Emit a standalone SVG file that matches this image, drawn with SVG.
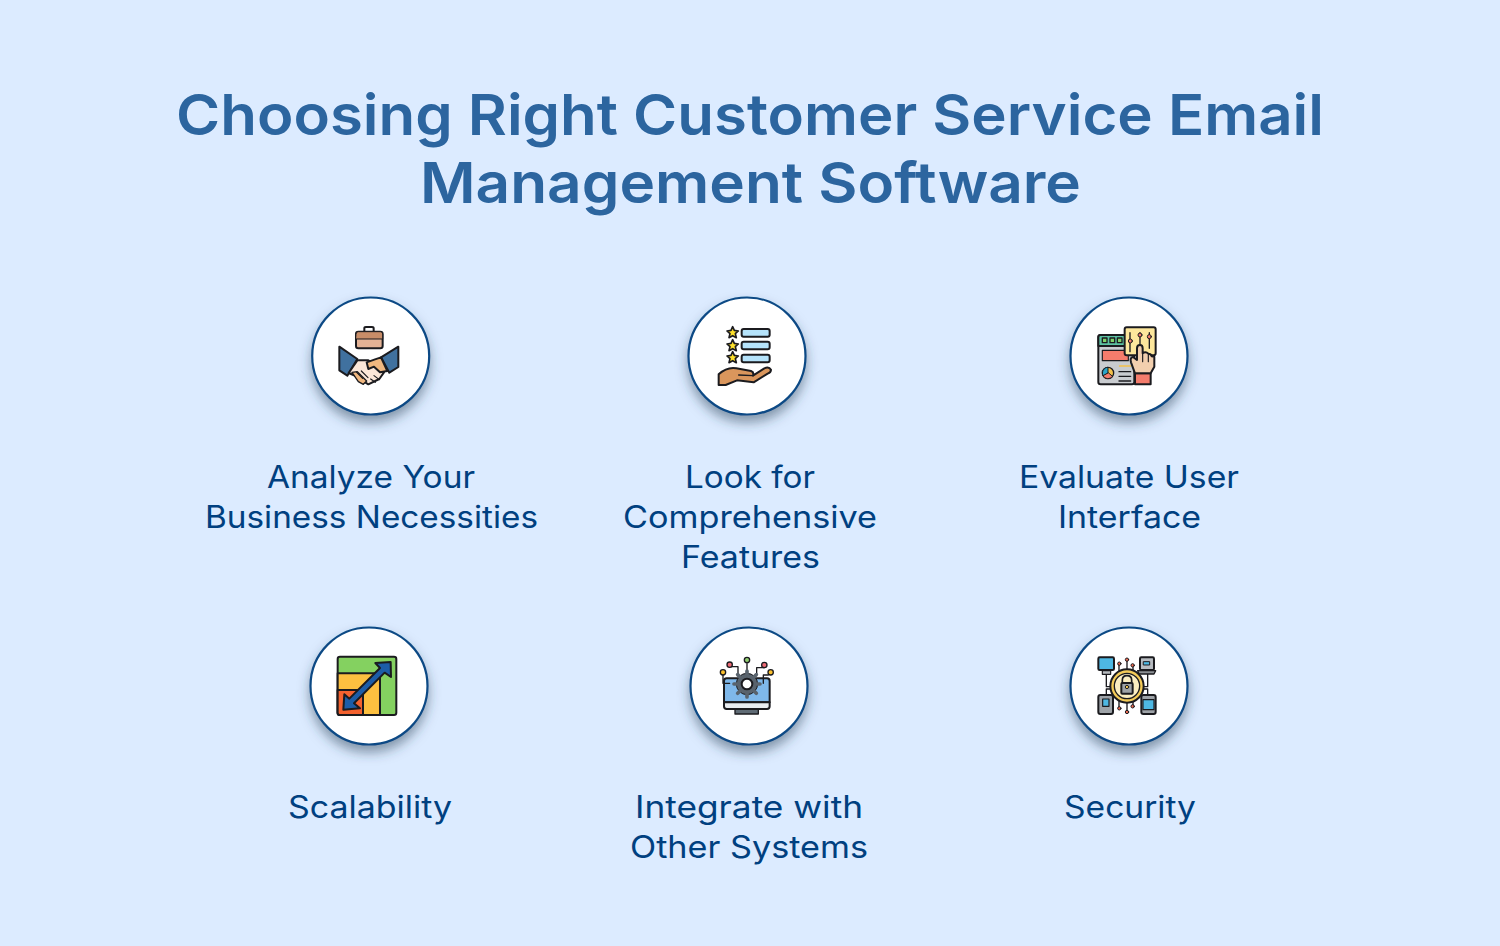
<svg xmlns="http://www.w3.org/2000/svg" width="1500" height="946" viewBox="0 0 1500 946">
<style>
.t{font-family:"Inter","Liberation Sans",sans-serif;font-weight:600;font-size:57px;fill:#2c659f}
.l{font-family:"Inter","Liberation Sans",sans-serif;font-weight:400;font-size:31px;fill:#004080}
.c{fill:#fff;stroke:#0b4a85;stroke-width:2.2;filter:url(#sh)}
.i{stroke:#1b1b1f;stroke-width:6;stroke-linejoin:round;stroke-linecap:round}
.n{fill:none}
</style>
<defs>
<filter id="sh" x="-30%" y="-30%" width="160%" height="170%"><feDropShadow dx="0" dy="7" stdDeviation="6" flood-color="#2a3f55" flood-opacity=".5"/></filter>
</defs>
<rect width="1500" height="946" fill="#dcebff"/>
<g id="title">
<text class="t" x="176" y="135" textLength="1148" lengthAdjust="spacingAndGlyphs">Choosing Right Customer Service Email</text>
<text class="t" x="420" y="203" textLength="661" lengthAdjust="spacingAndGlyphs">Management Software</text>
</g>
<g id="node-analyze">
<circle class="c" cx="370.7" cy="356" r="58.5"/>
<g class="i" transform="translate(300,285) scale(.3333)">
<path class="n" d="M193 140V130Q193 126 198 126H216Q221 126 221 130V140"/>
<rect x="168" y="140" width="80" height="50" rx="7" fill="#e3b295"/>
<path d="M168 147Q168 140 175 140H241Q248 140 248 147V162H168Z" fill="#c88d68" stroke-width="3"/>
<path d="M118 185L172 222L142 272L118 256Z" fill="#40719f"/>
<path d="M295 185L243 217L268 263L295 246Z" fill="#40719f"/>
<path d="M172 226L205 226L252 262L238 282L205 298L160 270L146 264Z" fill="#fbe7d9"/>
<path d="M200 232L225 223L243 217L262 258L240 262L222 245L205 252Z" fill="#f0b77f"/>
<path d="M156 262L172 260L200 288L190 298L175 290Z" fill="#f0b77f" stroke-width="4"/>
<path class="n" d="M222 272L238 284M212 282L226 292M170 262L188 280M184 258L204 278" stroke-width="3.5"/>
</g>
</g>
<g id="node-features">
<circle class="c" cx="747" cy="356" r="58.5"/>
<g class="i" transform="translate(677,285) scale(.3333)">
<path d="M167 125L172 136L184 138L175 146L178 158L167 152L156 158L159 146L150 138L162 136Z" fill="#fde02c" stroke-width="5"/>
<path d="M167 164L172 175L184 177L175 185L178 197L167 191L156 197L159 185L150 177L162 175Z" fill="#fde02c" stroke-width="5"/>
<path d="M167 200L172 211L184 213L175 221L178 233L167 227L156 233L159 221L150 213L162 211Z" fill="#fde02c" stroke-width="5"/>
<rect x="194" y="132" width="84" height="23" rx="6" fill="#b5e3fb"/>
<rect x="194" y="170" width="84" height="23" rx="6" fill="#b5e3fb"/>
<rect x="194" y="209" width="84" height="23" rx="6" fill="#b5e3fb"/>
<path d="M125 268Q150 245 178 250L222 258Q232 262 228 272L262 250Q276 244 282 254Q282 262 272 266L230 292L180 286L146 300H125Z" fill="#da965c"/>
<path class="n" d="M185 270L228 272" stroke-width="4"/>
</g>
</g>
<g id="node-interface">
<circle class="c" cx="1129" cy="356" r="58.5"/>
<g class="i" transform="translate(1059,285) scale(.3333)">
<rect x="118" y="150" width="108" height="148" rx="7" fill="#c9ccd0"/>
<path d="M118 157Q118 150 125 150H226V183H118Z" fill="#5cc3a3"/>
<rect x="130" y="159" width="14" height="14" fill="#7fd36b" stroke-width="4"/>
<rect x="153" y="159" width="14" height="14" fill="#7fd36b" stroke-width="4"/>
<rect x="175" y="159" width="14" height="14" fill="#7fd36b" stroke-width="4"/>
<rect x="130" y="196" width="78" height="31" fill="#f47c6c" stroke-width="3.5"/>
<circle cx="147" cy="264" r="17" fill="#f3c04a" stroke-width="4"/>
<path d="M147 264V247A17 17 0 0 0 132 272Z" fill="#2aa6c9" stroke-width="3"/>
<path d="M147 264L132 272A17 17 0 0 0 160 275Z" fill="#f47c6c" stroke-width="3"/>
<path d="M182 243H215" stroke="#f3c04a" stroke-width="5"/>
<path class="n" d="M180 260H215M180 274H215M180 288H215" stroke-width="4"/>
<rect x="197" y="127" width="93" height="84" rx="6" fill="#fde79c"/>
<path class="n" d="M213 143V200M243 143V200M271 143V190" stroke-width="4"/>
<circle cx="214" cy="168" r="6" fill="#f47c6c" stroke-width="3"/>
<circle cx="243" cy="150" r="6" fill="#f47c6c" stroke-width="3"/>
<circle cx="271" cy="155" r="6" fill="#f47c6c" stroke-width="3"/>
<path d="M228 265V298H275V265Z" fill="#f47c6c"/>
<path d="M228 265L216 232Q212 218 222 216L234 225V190Q234 180 243 180Q251 180 251 190V205Q260 198 268 206Q276 206 278 214L286 215V245L275 265Z" fill="#f2cfae"/>
<path class="n" d="M251 205V230M268 206V230" stroke-width="3.5"/>
</g>
</g>
<g id="node-scalability">
<circle class="c" cx="369" cy="686" r="58.5"/>
<g class="i" transform="translate(299,615) scale(.3333)">
<rect x="116" y="125" width="176" height="175" rx="7" fill="#84d160"/>
<path d="M116 175H243V300H123Q116 300 116 293Z" fill="#fdc040"/>
<path d="M116 225H192V300H123Q116 300 116 293Z" fill="#f4622f"/>
<path d="M275 141L276 186L257 173L165 265L183 280L133 284L136 238L151 251L243 159L229 144Z" fill="#1c5da8"/>
</g>
</g>
<g id="node-integrate">
<circle class="c" cx="749" cy="686" r="58.5"/>
<g class="i" transform="translate(679,615) scale(.3333)">
<rect x="168" y="282" width="70" height="15" fill="#5f6b75" stroke-width="4"/>
<path d="M135 198Q135 190 143 190H264Q272 190 272 198V262H135Z" fill="#7fb8ea"/>
<path d="M135 262H272V274Q272 282 264 282H143Q135 282 135 274Z" fill="#e9edf1"/>
<path class="n" d="M132 180V205H152M152 155H177V178M204 145V170M256 158H233V178M268 180H253V205" stroke-width="4"/>
<circle cx="132" cy="172" r="8" fill="#fcc02d" stroke-width="4"/>
<circle cx="152" cy="149" r="8" fill="#ee6a75" stroke-width="4"/>
<circle cx="204" cy="135" r="8" fill="#92cf71" stroke-width="4"/>
<circle cx="256" cy="150" r="8" fill="#ee6a75" stroke-width="4"/>
<circle cx="275" cy="172" r="8" fill="#fcc02d" stroke-width="4"/>
<circle cx="204" cy="207" r="32" fill="#59636d" stroke-width="3"/>
<path class="n" d="M204 168V177M204 237V246M165 207H174M234 207H243M176 179L183 186M225 228L232 235M176 235L183 228M225 186L232 179" stroke-width="11" stroke="#59636d"/>
<circle cx="204" cy="207" r="16" fill="#fff"/>
</g>
</g>
<g id="node-security">
<circle class="c" cx="1129" cy="686" r="58.5"/>
<g class="i" transform="translate(1059,615) scale(.3333)">
<path class="n" d="M142 178V215H160M266 178V215H248M142 240V222H160M266 240V222H248M204 135V168M180 145V172M222 150V172M204 262V292M180 280V256M222 274V256" stroke-width="4"/>
<rect x="118" y="127" width="47" height="38" rx="4" fill="#4eb8e3"/>
<rect x="130" y="167" width="25" height="11" fill="#b8bcc1" stroke-width="3.5"/>
<rect x="243" y="127" width="42" height="38" rx="4" fill="#b8bcc1"/>
<rect x="254" y="140" width="18" height="10" fill="#4eb8e3" stroke-width="3"/>
<path d="M236 167H290L285 177H240Z" fill="#8c9095" stroke-width="4"/>
<rect x="118" y="240" width="44" height="57" rx="6" fill="#9ea3a8"/>
<rect x="131" y="252" width="19" height="22" fill="#4eb8e3" stroke-width="3.5"/>
<rect x="247" y="240" width="43" height="57" rx="6" fill="#9ea3a8"/>
<rect x="252" y="254" width="33" height="30" fill="#4eb8e3" stroke-width="3.5"/>
<circle cx="204" cy="134" r="5" fill="#ee6a50" stroke-width="3"/>
<circle cx="181" cy="146" r="5" fill="#ee6a50" stroke-width="3"/>
<circle cx="221" cy="151" r="5" fill="#ee6a50" stroke-width="3"/>
<circle cx="204" cy="291" r="5" fill="#ee6a50" stroke-width="3"/>
<circle cx="181" cy="280" r="5" fill="#ee6a50" stroke-width="3"/>
<circle cx="221" cy="274" r="5" fill="#ee6a50" stroke-width="3"/>
<circle cx="204" cy="213" r="50" fill="#f4cb58"/>
<circle cx="204" cy="213" r="38" fill="#fbeec1" stroke-width="4"/>
<path class="n" d="M190 205V195Q190 182 204 182Q218 182 218 195V205" stroke-width="5"/>
<rect x="187" y="204" width="34" height="32" rx="3" fill="#9ea3a8"/>
<circle cx="204" cy="216" r="5" fill="#f4cb58" stroke-width="3"/>
</g>
</g>
<g id="labels">
<text class="l" x="267" y="488" textLength="208" lengthAdjust="spacingAndGlyphs">Analyze Your</text>
<text class="l" x="205" y="528" textLength="333" lengthAdjust="spacingAndGlyphs">Business Necessities</text>
<text class="l" x="685" y="488" textLength="130" lengthAdjust="spacingAndGlyphs">Look for</text>
<text class="l" x="623" y="528" textLength="254" lengthAdjust="spacingAndGlyphs">Comprehensive</text>
<text class="l" x="681" y="568" textLength="139" lengthAdjust="spacingAndGlyphs">Features</text>
<text class="l" x="1019" y="488" textLength="220" lengthAdjust="spacingAndGlyphs">Evaluate User</text>
<text class="l" x="1058" y="528" textLength="143" lengthAdjust="spacingAndGlyphs">Interface</text>
<text class="l" x="288" y="818" textLength="164" lengthAdjust="spacingAndGlyphs">Scalability</text>
<text class="l" x="635" y="818" textLength="228" lengthAdjust="spacingAndGlyphs">Integrate with</text>
<text class="l" x="630" y="858" textLength="238" lengthAdjust="spacingAndGlyphs">Other Systems</text>
<text class="l" x="1064" y="818" textLength="132" lengthAdjust="spacingAndGlyphs">Security</text>
</g>
</svg>
